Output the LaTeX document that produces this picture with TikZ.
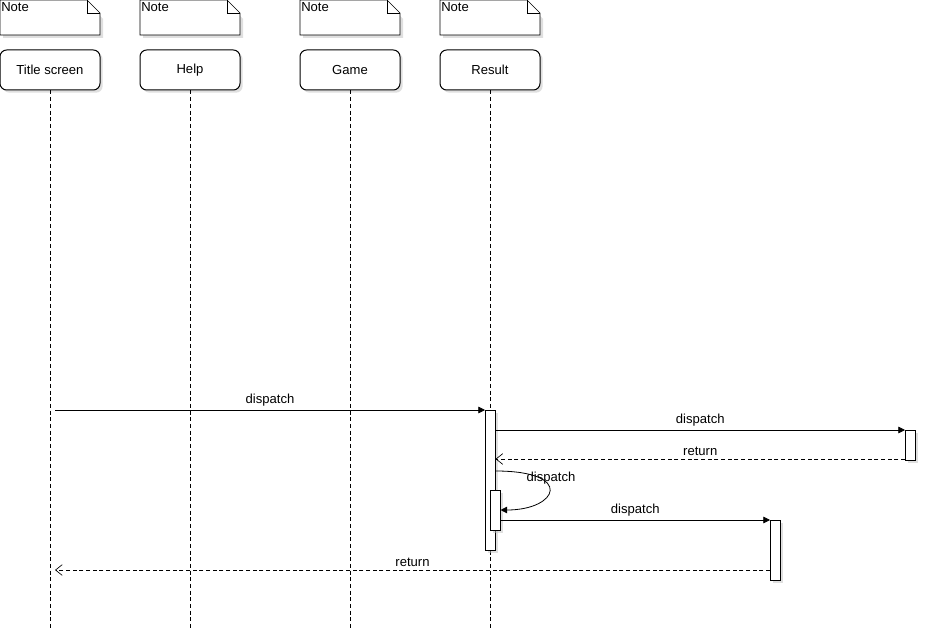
\documentclass[tikz,border=0pt]{standalone}
\usepackage{fontspec}
\setmainfont{Liberation Sans}
\usetikzlibrary{arrows.meta,shadows}
\begin{document}
\begin{tikzpicture}[x=0.75pt,y=-0.75pt,
  font=\fontsize{9.8}{11}\selectfont,
  box/.style={draw,line width=0.75pt,fill=white,rounded corners=5pt,minimum width=75pt,minimum height=30pt,inner sep=0pt,
    drop shadow={shadow xshift=2pt,shadow yshift=-2pt,fill=black!25,opacity=.5}},
  life/.style={densely dashed,line width=0.6pt},
  act/.style={draw,fill=white,drop shadow={shadow xshift=2pt,shadow yshift=-2pt,fill=black!25,opacity=.5}},
  msg/.style={-{Triangle[length=5pt,width=5pt]},line width=0.6pt},
  ret/.style={-{Straight Barb[length=5pt,width=8pt]},densely dashed,line width=0.5pt},
  note/.style={draw,fill=white}]
\useasboundingbox (0,0) rectangle (928,642);
% notes
\foreach \x/\n in {0/na,140/nb,300/nc,440/nd}{
  \fill[black!25,opacity=.5] (\x+3,3) -- (\x+87,3) -- (\x+103,19) -- (\x+103,38) -- (\x+3,38) -- cycle;
  \draw[note] (\x,0) -- (\x+87,0) -- (\x+100,13) -- (\x+100,35) -- (\x,35) -- cycle;
  \draw (\x+87,0) -- (\x+87,13) -- (\x+100,13);
  \node[anchor=north west,inner sep=0pt] (\n) at (\x+1,2) {Note};
}
% headers
\node[box] (t) at (50,70) {Title screen};
\node[box] (h) at (190,70) {Help};
\node[box] (g) at (350,70) {Game};
\node[box] (r) at (490,70) {Result};
\coordinate (te) at (50,628);
\coordinate (he) at (190,628);
\coordinate (ge) at (350,628);
\coordinate (re) at (490,628);
\draw[life] (t.south) -- (te);
\draw[life] (h.south) -- (he);
\draw[life] (g.south) -- (ge);
\draw[life] (r.south) -- (re);
% activations
\node[act,anchor=north west,minimum width=7.5pt,minimum height=105pt,inner sep=0pt] (a1) at (485,410) {};
\node[act,anchor=north west,minimum width=7.5pt,minimum height=30pt,inner sep=0pt] (a2) at (490,490) {};
\node[act,anchor=north west,minimum width=7.5pt,minimum height=22.5pt,inner sep=0pt] (a3) at (905,430) {};
\node[act,anchor=north west,minimum width=7.5pt,minimum height=45pt,inner sep=0pt] (a4) at (770,520) {};
% messages
\coordinate (s1) at (55,410);
\draw[msg] (s1) -- (a1.north west) node[midway,above=-1pt] {dispatch};
\draw[msg] (a1.east |- 0,430) -- (a3.north west) node[midway,above=-1pt] {dispatch};
\draw[ret] (a3.west |- 0,459) -- (a1.east |- 0,459) node[midway,above=-1pt] {return};
\draw[msg] (a1.east |- 0,471) .. controls (575,471) and (558,510) .. (a2.east |- 0,510);
\node at (551,478) {dispatch};
\draw[msg] (a2.east |- 0,520) -- (a4.north west) node[midway,above=-1pt] {dispatch};
\coordinate (e6) at (55,570);
\draw[ret] (a4.west |- 0,570) -- (e6) node[midway,above=-1pt] {return};
\end{tikzpicture}
\end{document}
